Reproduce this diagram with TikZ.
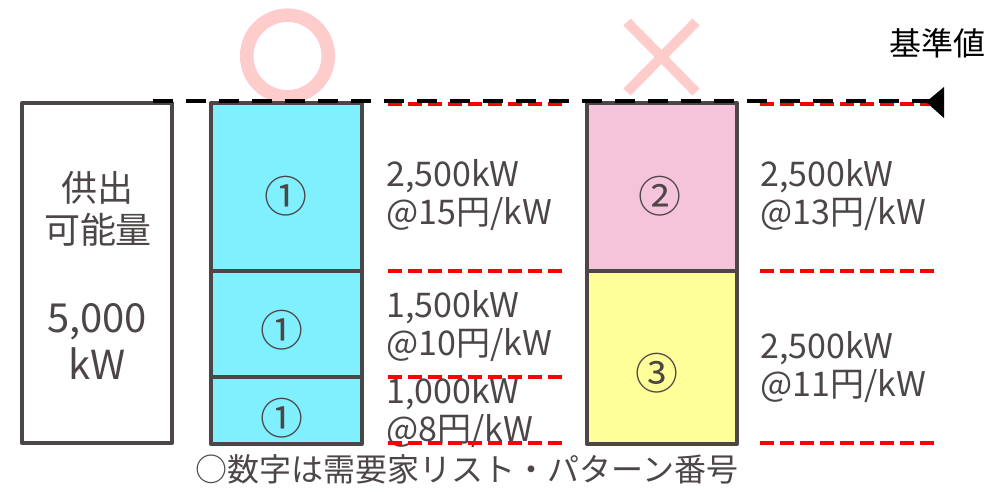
\documentclass[tikz,border=0pt]{standalone}
\usepackage{fontspec}
\setmainfont{Noto Sans CJK JP}
\usetikzlibrary{arrows.meta}
\definecolor{edge}{HTML}{4D4646}
\definecolor{txt}{HTML}{4D4646}
\definecolor{cyanfill}{HTML}{80F0FF}
\definecolor{pinkfill}{HTML}{F5C4DA}
\definecolor{yellowfill}{HTML}{FFFF99}
\definecolor{markpink}{HTML}{FFCCCC}
\definecolor{redline}{HTML}{FF0000}
\tikzset{
  seg/.style={draw=edge, line width=4pt, rectangle, inner sep=0pt, line join=round},
  lbl/.style={text=txt, inner sep=0pt, anchor=west, align=left, font=\fontsize{34}{38}\selectfont},
  num/.style={text=txt, inner sep=0pt, font=\fontsize{43}{46}\selectfont},
  boxtxt/.style={text=txt, inner sep=0pt, font=\fontsize{36}{40}\selectfont},
  reddash/.style={draw=redline, line width=4pt, dash pattern=on 14pt off 6pt},
  blackdash/.style={draw=black, line width=4pt, dash pattern=on 20pt off 13pt}
}
\begin{document}
\begin{tikzpicture}[x=1pt,y=-1pt]
\useasboundingbox (0,0) rectangle (994,493);
% marks
\draw[markpink, line width=13.5pt] (287.5,56) circle[radius=40.8];
\draw[markpink, line width=10pt] (627,22) -- (696,92);
\draw[markpink, line width=10pt] (696,22) -- (627,92);
% left box
\node[seg, fill=white, minimum width=150pt, minimum height=340pt] (supply) at (97,273) {};
\node[boxtxt] (t1) at (97,188) {供出};
\node[boxtxt] (t2) at (98,230) {可能量};
\node[boxtxt, font=\fontsize{40}{44}\selectfont] (t3) at (97,322) {5,000};
\node[boxtxt, font=\fontsize{40}{44}\selectfont] (t4) at (97,364) {kW};
% blue column
\node[seg, fill=cyanfill, minimum width=151pt, minimum height=168pt] (b1) at (286.5,187) {};
\node[seg, fill=cyanfill, minimum width=151pt, minimum height=106pt] (b2) at (286.5,324) {};
\node[seg, fill=cyanfill, minimum width=151pt, minimum height=67pt] (b3) at (286.5,410.5) {};
\node[num] (n1) at (286,196) {①};
\node[num] (n2) at (281.5,330) {①};
\node[num] (n3) at (281.5,418) {①};
% right column
\node[seg, fill=pinkfill, minimum width=150pt, minimum height=168pt] (p1) at (662,187) {};
\node[seg, fill=yellowfill, minimum width=150pt, minimum height=173pt] (y1) at (662,357.5) {};
\node[num] (n4) at (659.5,196) {②};
\node[num] (n5) at (656.5,373) {③};
% labels
\node[lbl] (l1) at (386,195) {2,500kW\\@15円/kW};
\node[lbl] (l2) at (386,326) {1,500kW\\@10円/kW};
\node[lbl] (l3) at (386,412) {1,000kW\\@8円/kW};
\node[lbl] (l4) at (760,195) {2,500kW\\@13円/kW};
\node[lbl] (l5) at (760,367) {2,500kW\\@11円/kW};
% red dashed lines
\coordinate (ra0) at (388,104); \coordinate (rb0) at (564,104);
\coordinate (ra1) at (388,271); \coordinate (rb1) at (564,271);
\coordinate (ra2) at (388,377); \coordinate (rb2) at (564,377);
\coordinate (ra3) at (388,443); \coordinate (rb3) at (564,443);
\coordinate (rc0) at (760,104); \coordinate (rd0) at (936,104);
\coordinate (rc1) at (760,271); \coordinate (rd1) at (936,271);
\coordinate (rc3) at (760,443); \coordinate (rd3) at (936,443);
\foreach \a/\b in {ra0/rb0,ra1/rb1,ra2/rb2,ra3/rb3,rc0/rd0,rc1/rd1,rc3/rd3}
  \draw[reddash] (\a) -- (\b);
% reference line
\coordinate (refL) at (153,101);
\coordinate (refR) at (930,101);
\draw[blackdash] (refL) -- (refR);
\fill[black] (926,102) -- (944,87) -- (944,118) -- cycle;
\node[inner sep=0pt, font=\fontsize{32}{36}\selectfont] (kijun) at (937,43) {基準値};
% bottom note
\node[text=txt, inner sep=0pt, font=\fontsize{32}{36}\selectfont] (note) at (467,469) {○数字は需要家リスト・パターン番号};
\end{tikzpicture}
\end{document}
